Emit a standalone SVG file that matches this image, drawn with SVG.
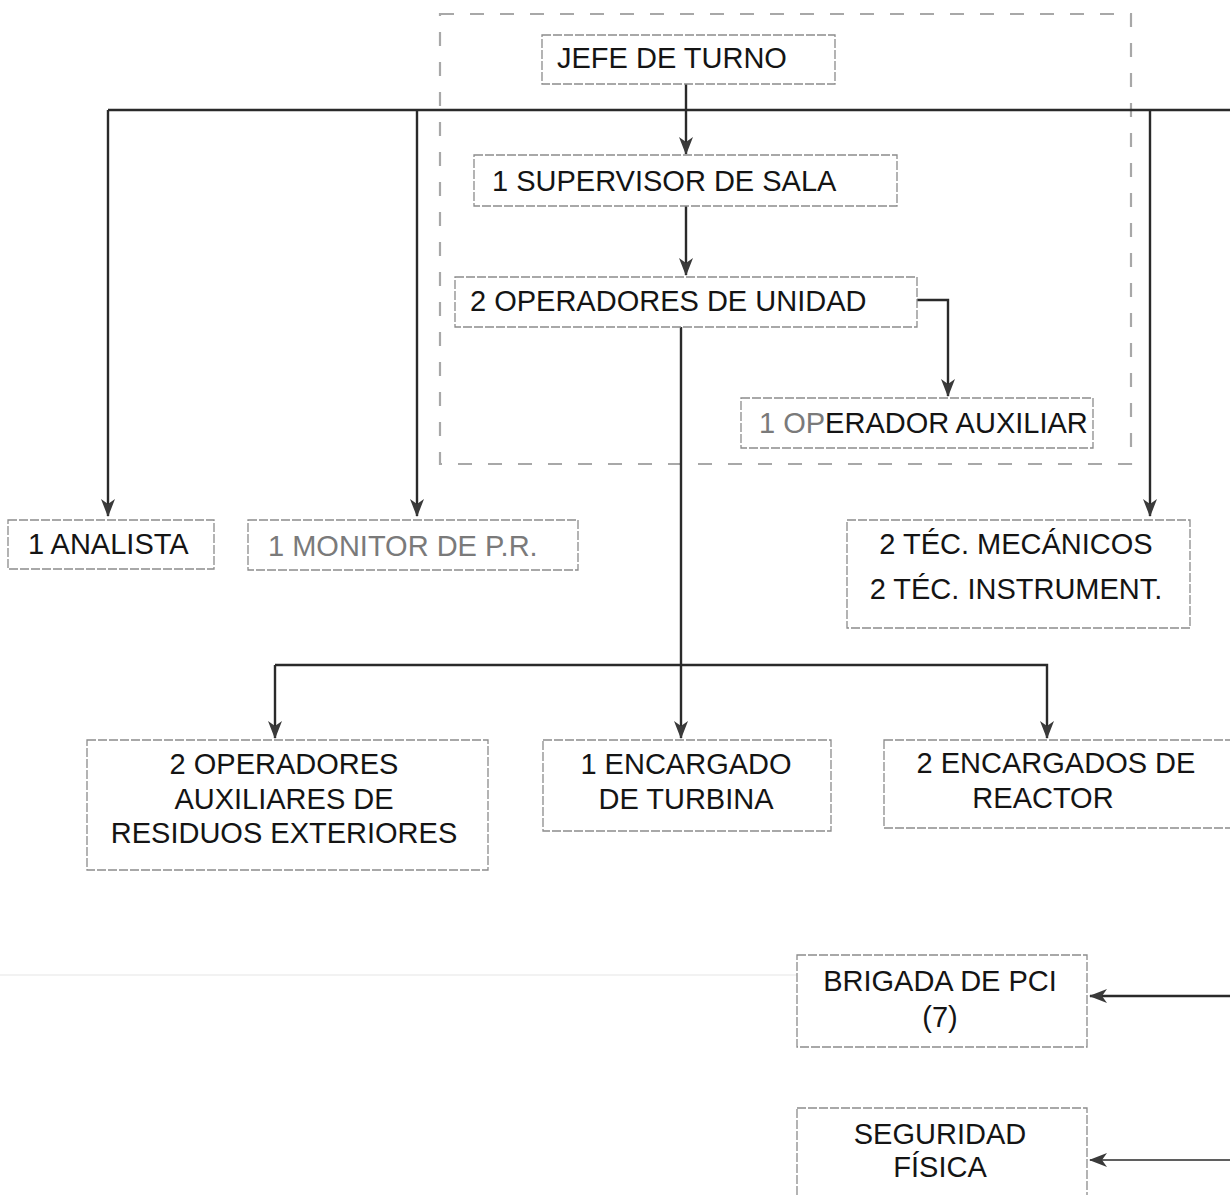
<svg xmlns="http://www.w3.org/2000/svg" width="1230" height="1195" viewBox="0 0 1230 1195">
<defs>
<style>
.box{fill:#fff;stroke:#8c8c8c;stroke-width:1.3;stroke-dasharray:9 2}
.t{font-family:"Liberation Sans",Arial,sans-serif;font-size:29px;fill:#141414}
.c{text-anchor:middle}
.g{fill:#7a7a7a}
.ln{fill:none;stroke:#2a2a2a;stroke-width:2.4}
.frame{fill:none;stroke:#a8a8a8;stroke-width:2.2;stroke-dasharray:14 16}
</style>
<marker id="ah" viewBox="0 0 18 14" refX="17" refY="7" markerWidth="18" markerHeight="14" orient="auto" markerUnits="userSpaceOnUse">
<path d="M0,0 L18,7 L0,14 L5,7 z" fill="#3a3a3a"/>
</marker>
</defs>
<rect width="1230" height="1195" fill="#fff"/>
<line x1="0" y1="975" x2="797" y2="975" stroke="#eeeeee" stroke-width="1.5"/>
<rect class="frame" x="440" y="14" width="691" height="450"/>

<g id="connectors">
<line class="ln" x1="108" y1="110" x2="1230" y2="110"/>
<line class="ln" x1="686" y1="84" x2="686" y2="154" marker-end="url(#ah)"/>
<line class="ln" x1="686" y1="206" x2="686" y2="275" marker-end="url(#ah)"/>
<polyline class="ln" points="917,300 948,300 948,396" marker-end="url(#ah)"/>
<line class="ln" x1="681" y1="327" x2="681" y2="738" marker-end="url(#ah)"/>
<polyline class="ln" points="275,665 1047,665 1047,738" marker-end="url(#ah)"/>
<line class="ln" x1="275" y1="665" x2="275" y2="738" marker-end="url(#ah)"/>
<line class="ln" x1="108" y1="110" x2="108" y2="516" marker-end="url(#ah)"/>
<line class="ln" x1="417" y1="110" x2="417" y2="516" marker-end="url(#ah)"/>
<line class="ln" x1="1150" y1="110" x2="1150" y2="516" marker-end="url(#ah)"/>
<line class="ln" x1="1230" y1="996" x2="1090" y2="996" marker-end="url(#ah)"/>
<line class="ln" x1="1230" y1="1160" x2="1090" y2="1160" marker-end="url(#ah)" style="stroke-width:1.7"/>
</g>

<g id="jefe">
<rect class="box" x="542" y="35" width="293" height="49"/>
<text class="t" x="557" y="68">JEFE DE TURNO</text>
</g>
<g id="supervisor">
<rect class="box" x="474" y="155" width="423" height="51"/>
<text class="t" x="492" y="191">1 SUPERVISOR DE SALA</text>
</g>
<g id="operadores-unidad">
<rect class="box" x="455" y="277" width="462" height="50"/>
<text class="t" x="470" y="311">2 OPERADORES DE UNIDAD</text>
</g>
<g id="operador-auxiliar">
<rect class="box" x="741" y="398" width="352" height="50"/>
<text class="t" x="759" y="433"><tspan class="g">1 OP</tspan>ERADOR AUXILIAR</text>
</g>
<g id="analista">
<rect class="box" x="8" y="520" width="206" height="49"/>
<text class="t" x="28" y="554">1 ANALISTA</text>
</g>
<g id="monitor">
<rect class="box" x="248" y="520" width="330" height="50"/>
<text class="t g" x="268" y="556">1 MONITOR DE P.R.</text>
</g>
<g id="tecnicos">
<rect class="box" x="847" y="520" width="343" height="108"/>
<text class="t c" x="1016" y="554">2 TÉC. MECÁNICOS</text>
<text class="t c" x="1016" y="599">2 TÉC. INSTRUMENT.</text>
</g>
<g id="op-aux-residuos">
<rect class="box" x="87" y="740" width="401" height="130"/>
<text class="t c" x="284" y="774">2 OPERADORES</text>
<text class="t c" x="284" y="809">AUXILIARES DE</text>
<text class="t c" x="284" y="843">RESIDUOS EXTERIORES</text>
</g>
<g id="encargado-turbina">
<rect class="box" x="543" y="740" width="288" height="91"/>
<text class="t c" x="686" y="774">1 ENCARGADO</text>
<text class="t c" x="686" y="809">DE TURBINA</text>
</g>
<g id="encargados-reactor">
<rect class="box" x="884" y="740" width="351" height="88"/>
<text class="t c" x="1056" y="773">2 ENCARGADOS DE</text>
<text class="t c" x="1043" y="808">REACTOR</text>
</g>
<g id="brigada">
<rect class="box" x="797" y="955" width="290" height="92"/>
<text class="t c" x="940" y="991">BRIGADA DE PCI</text>
<text class="t c" x="940" y="1027">(7)</text>
</g>
<g id="seguridad">
<rect class="box" x="797" y="1108" width="290" height="100"/>
<text class="t c" x="940" y="1144">SEGURIDAD</text>
<text class="t c" x="940" y="1177">FÍSICA</text>
</g>
</svg>
